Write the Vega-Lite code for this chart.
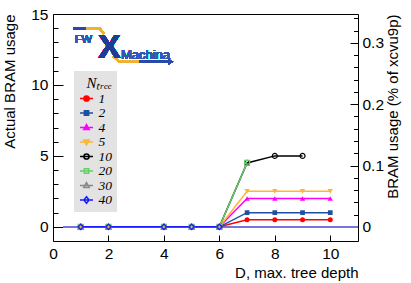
{
  "$schema": "https://vega.github.io/schema/vega-lite/v6.json",
  "width": 305,
  "height": 227,
  "autosize": {"type": "none"},
  "padding": {"left": 53, "top": 14, "right": 53, "bottom": 42},
  "background": "white",
  "config": {
    "view": {"stroke": "#000", "strokeWidth": 1},
    "font": "Liberation Sans",
    "axis": {
      "labelFont": "Liberation Sans", "labelFontSize": 15.5, "labelColor": "#000",
      "titleFont": "Liberation Sans", "titleFontSize": 15, "titleFontWeight": "normal", "titleColor": "#000",
      "domain": false, "grid": false, "tickColor": "#000", "tickWidth": 1,
      "labelOverlap": false, "labelFlush": false, "labelBound": false
    }
  },
  "data": {"values": [
    {"D": 1, "N": "1", "v": 0}, {"D": 2, "N": "1", "v": 0}, {"D": 4, "N": "1", "v": 0}, {"D": 5, "N": "1", "v": 0}, {"D": 6, "N": "1", "v": 0},
    {"D": 7, "N": "1", "v": 0.5}, {"D": 8, "N": "1", "v": 0.5}, {"D": 9, "N": "1", "v": 0.5}, {"D": 10, "N": "1", "v": 0.5},
    {"D": 1, "N": "2", "v": 0}, {"D": 2, "N": "2", "v": 0}, {"D": 4, "N": "2", "v": 0}, {"D": 5, "N": "2", "v": 0}, {"D": 6, "N": "2", "v": 0},
    {"D": 7, "N": "2", "v": 1}, {"D": 8, "N": "2", "v": 1}, {"D": 9, "N": "2", "v": 1}, {"D": 10, "N": "2", "v": 1},
    {"D": 1, "N": "4", "v": 0}, {"D": 2, "N": "4", "v": 0}, {"D": 4, "N": "4", "v": 0}, {"D": 5, "N": "4", "v": 0}, {"D": 6, "N": "4", "v": 0},
    {"D": 7, "N": "4", "v": 2}, {"D": 8, "N": "4", "v": 2}, {"D": 9, "N": "4", "v": 2}, {"D": 10, "N": "4", "v": 2},
    {"D": 1, "N": "5", "v": 0}, {"D": 2, "N": "5", "v": 0}, {"D": 4, "N": "5", "v": 0}, {"D": 5, "N": "5", "v": 0}, {"D": 6, "N": "5", "v": 0},
    {"D": 7, "N": "5", "v": 2.5}, {"D": 8, "N": "5", "v": 2.5}, {"D": 9, "N": "5", "v": 2.5}, {"D": 10, "N": "5", "v": 2.5},
    {"D": 1, "N": "10", "v": 0}, {"D": 2, "N": "10", "v": 0}, {"D": 4, "N": "10", "v": 0}, {"D": 5, "N": "10", "v": 0}, {"D": 6, "N": "10", "v": 0},
    {"D": 7, "N": "10", "v": 4.5}, {"D": 8, "N": "10", "v": 5}, {"D": 9, "N": "10", "v": 5},
    {"D": 1, "N": "20", "v": 0}, {"D": 2, "N": "20", "v": 0}, {"D": 4, "N": "20", "v": 0}, {"D": 5, "N": "20", "v": 0}, {"D": 6, "N": "20", "v": 0},
    {"D": 7, "N": "20", "v": 4.5},
    {"D": 1, "N": "30", "v": 0}, {"D": 2, "N": "30", "v": 0}, {"D": 4, "N": "30", "v": 0}, {"D": 5, "N": "30", "v": 0}, {"D": 6, "N": "30", "v": 0},
    {"D": 1, "N": "40", "v": 0}, {"D": 2, "N": "40", "v": 0}, {"D": 4, "N": "40", "v": 0}, {"D": 5, "N": "40", "v": 0}, {"D": 6, "N": "40", "v": 0}
  ]},
  "layer": [
    {
      "mark": {"type": "rule", "color": "#7878d8", "strokeWidth": 1},
      "encoding": {
        "x": {"datum": 0.37, "type": "quantitative"},
        "x2": {"datum": 11},
        "y": {"datum": 0, "type": "quantitative",
          "scale": {"domain": [-0.023148, 0.34722], "nice": false, "zero": false},
          "axis": {
            "orient": "right",
            "values": [0, 0.02, 0.04, 0.06, 0.08, 0.1, 0.12, 0.14, 0.16, 0.18, 0.2, 0.22, 0.24, 0.26, 0.28, 0.3, 0.32, 0.34],
            "tickSize": {"condition": {"test": "abs(datum.value*10 - round(datum.value*10)) < 0.000001", "value": -8}, "value": -4.5},
            "labelExpr": "abs(datum.value*10 - round(datum.value*10)) < 0.000001 ? format(datum.value, '.1~f') : ''",
            "labelPadding": 12,
            "labelOverlap": false,
            "title": "BRAM usage (% of xcvu9p)",
            "titleAngle": -90,
            "titleAnchor": "end",
            "titlePadding": 17
          }
        }
      }
    },
    {
      "mark": {"type": "point", "opacity": 0},
      "encoding": {
        "x": {"datum": 1, "type": "quantitative"},
        "y": {"datum": 0, "type": "quantitative",
          "scale": {"domain": [-1, 15], "nice": false, "zero": false},
          "axis": {
            "orient": "left",
            "values": [1, 2, 3, 4, 6, 7, 8, 9, 11, 12, 13, 14],
            "tickSize": -5,
            "labels": false,
            "title": null
          }
        }
      }
    },
    {
      "layer": [
        {
          "mark": {"type": "line", "strokeWidth": 1.5},
          "encoding": {
            "x": {"field": "D", "type": "quantitative",
              "scale": {"domain": [0, 11], "nice": false, "zero": false},
              "axis": {
                "values": [0, 1, 2, 3, 4, 5, 6, 7, 8, 9, 10],
                "tickSize": {"condition": {"test": "datum.value % 2 === 0", "value": -6}, "value": -3},
                "labelExpr": "datum.value % 2 === 0 ? datum.label : ''",
                "labelPadding": 11,
                "labelOverlap": false,
                "title": "D, max. tree depth",
                "titleAnchor": "end",
                "titlePadding": 4
              }
            },
            "y": {"field": "v", "type": "quantitative",
              "scale": {"domain": [-1, 15], "nice": false, "zero": false},
              "axis": {
                "orient": "left",
                "values": [0, 5, 10, 15],
                "tickSize": -10,
                "labelPadding": 15,
                "labelOverlap": false,
                "title": "Actual BRAM usage",
                "titleAnchor": "end",
                "titlePadding": 13
              }
            },
            "color": {"field": "N", "type": "nominal",
              "scale": {
                "domain": ["1", "2", "4", "5", "10", "20", "30", "40"],
                "range": ["#ff0000", "#1f4fa3", "#ff00ff", "#ffb732", "#000000", "#66cc66", "#888888", "#1a1aff"]
              },
              "legend": {
                "orient": "none",
                "legendX": 21,
                "legendY": 57,
                "fillColor": "#e3e3e3",
                "padding": 5,
                "symbolSize": 169,
                "symbolStrokeWidth": 1.5,
                "labelFont": "Liberation Serif",
                "labelFontStyle": "italic",
                "labelFontSize": 13.5,
                "labelColor": "#000",
                "labelOffset": 4.5,
                "rowPadding": 0.5,
                "title": "Nₜᵣₑₑ",
                "titleFont": "Liberation Serif",
                "titleFontStyle": "italic",
                "titleFontWeight": "normal",
                "titleFontSize": 15,
                "titleColor": "#000",
                "titleAnchor": "end",
                "titlePadding": 0,
                "encode": {
                  "symbols": {
                    "update": {
                      "shape": {"signal": "['M-1,0H1M0.4,0A0.4,0.4,0,1,1,-0.4,0A0.4,0.4,0,1,1,0.4,0Z','M-1,0H1M-0.33,-0.33H0.33V0.33H-0.33Z','M-1,0H1M0,-0.45L0.42,0.3H-0.42Z','M-1,0H1M0,0.45L0.42,-0.3H-0.42Z','M-1,0H1M0.4,0A0.4,0.4,0,1,1,-0.4,0A0.4,0.4,0,1,1,0.4,0Z','M-1,0H1M-0.33,-0.33H0.33V0.33H-0.33Z','M-1,0H1M0,-0.45L0.42,0.3H-0.42Z','M-1,0H1M0,-0.5L0.4,0L0,0.5L-0.4,0Z'][datum.index]"},
                      "fill": {"signal": "datum.index < 4 ? ['#ff0000', '#1f4fa3', '#ff00ff', '#ffb732'][datum.index] : 'transparent'"},
                      "strokeWidth": {"value": 1.5}
                    }
                  }
                }
              }
            }
          }
        },
        {
          "transform": [{"filter": "datum.N === '1'"}],
          "mark": {"type": "point", "shape": "circle", "filled": true, "opacity": 1, "size": 25, "color": "#ff0000"},
          "encoding": {"x": {"field": "D", "type": "quantitative"}, "y": {"field": "v", "type": "quantitative"}}
        },
        {
          "transform": [{"filter": "datum.N === '2'"}],
          "mark": {"type": "point", "shape": "square", "filled": true, "opacity": 1, "size": 22, "color": "#1f4fa3"},
          "encoding": {"x": {"field": "D", "type": "quantitative"}, "y": {"field": "v", "type": "quantitative"}}
        },
        {
          "transform": [{"filter": "datum.N === '4'"}],
          "mark": {"type": "point", "shape": "triangle-up", "filled": true, "opacity": 1, "size": 28, "color": "#ff00ff"},
          "encoding": {"x": {"field": "D", "type": "quantitative"}, "y": {"field": "v", "type": "quantitative"}}
        },
        {
          "transform": [{"filter": "datum.N === '5'"}],
          "mark": {"type": "point", "shape": "triangle-down", "filled": true, "opacity": 1, "size": 28, "color": "#ffb732"},
          "encoding": {"x": {"field": "D", "type": "quantitative"}, "y": {"field": "v", "type": "quantitative"}}
        },
        {
          "transform": [{"filter": "datum.N === '10'"}],
          "mark": {"type": "point", "shape": "circle", "filled": false, "opacity": 1, "size": 25, "strokeWidth": 1.2, "color": "#000000"},
          "encoding": {"x": {"field": "D", "type": "quantitative"}, "y": {"field": "v", "type": "quantitative"}}
        },
        {
          "transform": [{"filter": "datum.N === '20'"}],
          "mark": {"type": "point", "shape": "square", "filled": false, "opacity": 1, "size": 25, "strokeWidth": 1.2, "color": "#66cc66"},
          "encoding": {"x": {"field": "D", "type": "quantitative"}, "y": {"field": "v", "type": "quantitative"}}
        },
        {
          "transform": [{"filter": "datum.N === '30'"}],
          "mark": {"type": "point", "shape": "triangle-up", "filled": false, "opacity": 1, "size": 28, "strokeWidth": 1.2, "color": "#888888"},
          "encoding": {"x": {"field": "D", "type": "quantitative"}, "y": {"field": "v", "type": "quantitative"}}
        },
        {
          "transform": [{"filter": "datum.N === '40'"}],
          "mark": {"type": "point", "shape": "diamond", "filled": false, "opacity": 1, "size": 30, "strokeWidth": 1.2, "color": "#1a1aff"},
          "encoding": {"x": {"field": "D", "type": "quantitative"}, "y": {"field": "v", "type": "quantitative"}}
        },
        {
          "mark": {"type": "rule", "color": "#2a4aa8", "strokeWidth": 2},
          "encoding": {"x": {"datum": 0.73}, "x2": {"datum": 1.19}, "y": {"datum": 14.0}}
        },
        {
          "mark": {"type": "rule", "color": "#f0b030", "strokeWidth": 2},
          "encoding": {"x": {"datum": 1.19}, "x2": {"datum": 1.67}, "y": {"datum": 14.0}}
        },
        {
          "mark": {"type": "rule", "color": "#f0b030", "strokeWidth": 2},
          "encoding": {"x": {"datum": 1.67}, "x2": {"datum": 1.84}, "y": {"datum": 14.0}, "y2": {"datum": 13.6}}
        },
        {
          "mark": {"type": "rule", "color": "#f0b030", "strokeWidth": 2},
          "encoding": {"x": {"datum": 2.17}, "x2": {"datum": 2.39}, "y": {"datum": 12.03}, "y2": {"datum": 11.63}}
        },
        {
          "mark": {"type": "rule", "color": "#f0b030", "strokeWidth": 2},
          "encoding": {"x": {"datum": 2.39}, "x2": {"datum": 3.13}, "y": {"datum": 11.63}}
        },
        {
          "mark": {"type": "rule", "color": "#2a4aa8", "strokeWidth": 2},
          "encoding": {"x": {"datum": 3.13}, "x2": {"datum": 4.21}, "y": {"datum": 11.63}}
        },
        {
          "mark": {"type": "point", "shape": "triangle-right", "filled": true, "color": "#2a4aa8", "size": 30, "opacity": 1},
          "encoding": {"x": {"datum": 4.25}, "y": {"datum": 11.63}}
        },
        {
          "mark": {"type": "text", "text": "FW", "align": "left", "baseline": "alphabetic", "fontSize": 11, "font": "Liberation Sans", "color": "#3458b0"},
          "encoding": {"x": {"datum": 0.79}, "y": {"datum": 12.96}}
        },
        {
          "mark": {"type": "text", "text": "X", "align": "center", "baseline": "alphabetic", "fontSize": 34, "fontWeight": "bold", "font": "Liberation Sans", "color": "#1e3c96"},
          "encoding": {"x": {"datum": 2.03}, "y": {"datum": 11.9}}
        },
        {
          "mark": {"type": "text", "text": "Machina", "align": "left", "baseline": "alphabetic", "fontSize": 13, "font": "Liberation Sans", "color": "#3458b0"},
          "encoding": {"x": {"datum": 2.45}, "y": {"datum": 11.84}}
        }
      ]
    }
  ],
  "resolve": {"scale": {"y": "independent"}}
}
